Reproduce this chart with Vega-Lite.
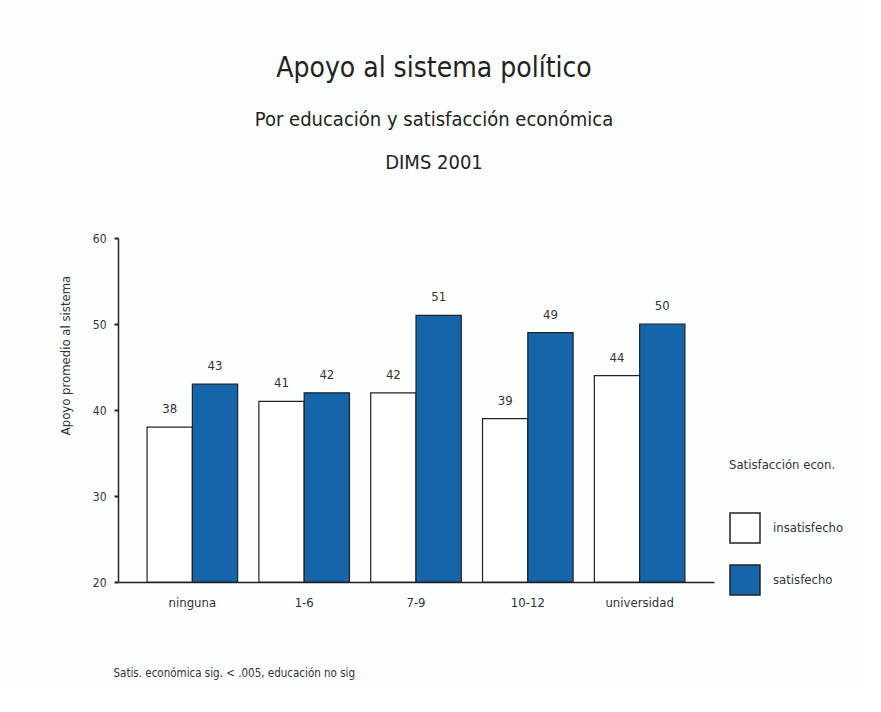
{
  "$schema": "https://vega.github.io/schema/vega-lite/v6.json",
  "width": 596,
  "height": 344,
  "padding": {"left": 59, "top": 55, "right": 10, "bottom": 10},
  "background": "#fdfefe",
  "config": {"font": "DejaVu Sans Condensed, Liberation Sans, sans-serif", "view": {"stroke": null}},
  "title": {
    "text": "Apoyo al sistema político",
    "subtitle": ["Por educación y satisfacción económica", "DIMS 2001"],
    "fontSize": 28,
    "fontWeight": "normal",
    "subtitleFontSize": 20,
    "subtitleLineHeight": 43,
    "subtitlePadding": 27,
    "offset": 59,
    "dx": 18,
    "color": "#222",
    "subtitleColor": "#222"
  },
  "data": {
    "values": [
      {"educacion": "ninguna", "satisfaccion": "insatisfecho", "apoyo": 38},
      {"educacion": "ninguna", "satisfaccion": "satisfecho", "apoyo": 43},
      {"educacion": "1-6", "satisfaccion": "insatisfecho", "apoyo": 41},
      {"educacion": "1-6", "satisfaccion": "satisfecho", "apoyo": 42},
      {"educacion": "7-9", "satisfaccion": "insatisfecho", "apoyo": 42},
      {"educacion": "7-9", "satisfaccion": "satisfecho", "apoyo": 51},
      {"educacion": "10-12", "satisfaccion": "insatisfecho", "apoyo": 39},
      {"educacion": "10-12", "satisfaccion": "satisfecho", "apoyo": 49},
      {"educacion": "universidad", "satisfaccion": "insatisfecho", "apoyo": 44},
      {"educacion": "universidad", "satisfaccion": "satisfecho", "apoyo": 50}
    ]
  },
  "encoding": {
    "x": {
      "field": "educacion",
      "type": "nominal",
      "sort": ["ninguna", "1-6", "7-9", "10-12", "universidad"],
      "scale": {"paddingInner": 0.19, "paddingOuter": 0.26},
      "axis": {
        "title": "Satis. económica sig. < .005, educación no sig",
        "titleFontSize": 11.5,
        "titleFontWeight": "normal",
        "titleAnchor": "start",
        "titleAlign": "left",
        "titleX": -5,
        "titlePadding": 58,
        "titleColor": "#333",
        "labelAngle": 0,
        "labelFontSize": 13,
        "labelColor": "#333",
        "labelPadding": 14,
        "ticks": false,
        "domainColor": "#222",
        "domainWidth": 1.5
      }
    },
    "xOffset": {"field": "satisfaccion", "type": "nominal", "scale": {"paddingInner": 0}},
    "y": {
      "field": "apoyo",
      "type": "quantitative",
      "scale": {"domain": [20, 60], "nice": false, "zero": false},
      "axis": {
        "title": "Apoyo promedio al sistema",
        "titleFontSize": 13,
        "titleFontWeight": "normal",
        "titleColor": "#333",
        "titlePadding": 20,
        "titleY": 117,
        "values": [20, 30, 40, 50, 60],
        "labelFontSize": 12,
        "labelColor": "#333",
        "labelPadding": 8,
        "tickSize": 4,
        "tickColor": "#222",
        "tickWidth": 2,
        "domainColor": "#222",
        "domainWidth": 1.5,
        "grid": false
      }
    }
  },
  "layer": [
    {
      "mark": {"type": "bar", "stroke": "#222", "strokeWidth": 1.2},
      "encoding": {
        "y2": {"datum": 20},
        "color": {
          "field": "satisfaccion",
          "type": "nominal",
          "scale": {"domain": ["insatisfecho", "satisfecho"], "range": ["#ffffff", "#1565a8"]},
          "legend": {
            "title": "Satisfacción econ.",
            "titleFontSize": 13,
            "titleFontWeight": "normal",
            "titleColor": "#333",
            "titlePadding": 40,
            "labelFontSize": 13,
            "labelColor": "#333",
            "symbolType": "square",
            "symbolSize": 900,
            "symbolStrokeColor": "#222",
            "symbolStrokeWidth": 1.5,
            "rowPadding": 16,
            "labelOffset": 12,
            "orient": "none",
            "legendX": 611,
            "legendY": 221,
            "padding": 0
          }
        }
      }
    },
    {
      "mark": {"type": "text", "dy": -18, "fontSize": 13, "color": "#333"},
      "encoding": {"text": {"field": "apoyo", "type": "quantitative"}}
    }
  ]
}
